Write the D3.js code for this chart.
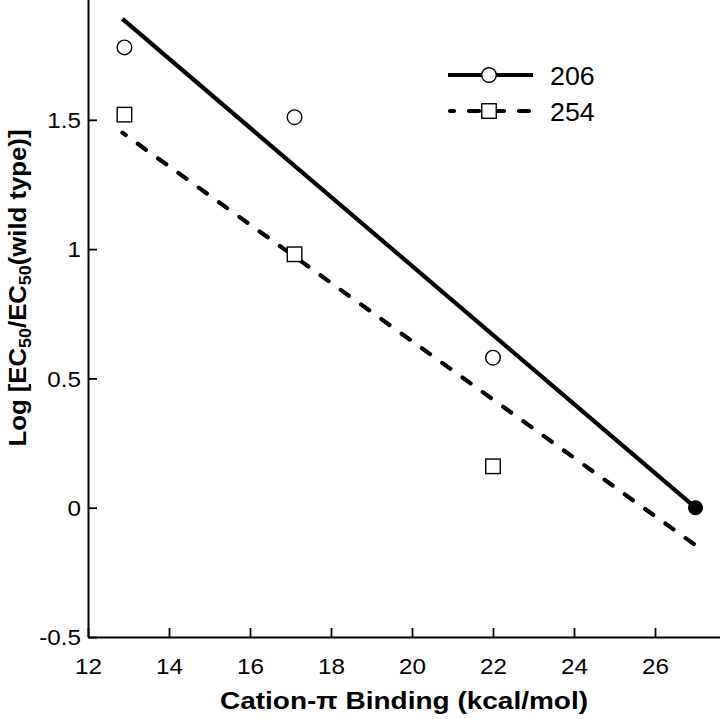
<!DOCTYPE html>
<html><head><meta charset="utf-8">
<script src="https://cdn.jsdelivr.net/npm/d3@7"></script>
<style>html,body{margin:0;padding:0;background:#fff;} svg{display:block;}</style>
</head><body>
<svg id="c" width="720" height="719"></svg>
<script>
const binding = [12.9, 17.1, 22.0];
const res206 = [1.78, 1.51, 0.58];
const res254 = [1.52, 0.98, 0.16];
const wildType = {x: 27.0, y: 0};
const fit206 = [{x: 12.85, y: 1.89}, {x: 27.0, y: 0.0}];
const fit254 = [{x: 12.85, y: 1.45}, {x: 27.0, y: -0.145}];
const xTicks = [12, 14, 16, 18, 20, 22, 24, 26];
const yTicks = [-0.5, 0, 0.5, 1, 1.5];
const legendNames = ["206", "254"];

const svg = d3.select("#c");
const font = "'Liberation Sans', Arial, Helvetica, sans-serif";
const x = d3.scaleLinear().domain([12, 28]).range([88, 736]);
const y = d3.scaleLinear().domain([-0.5, 2]).range([637, -9.5]);

function stretch(sel, k) {
  sel.each(function () {
    const L = this.getComputedTextLength();
    d3.select(this).attr("textLength", L * k).attr("lengthAdjust", "spacingAndGlyphs");
  });
}

// axes
const xAxis = d3.axisBottom(x).tickValues(xTicks).tickSizeInner(-9).tickSizeOuter(0).tickFormat(d => String(d));
const gx = svg.append("g").attr("transform", `translate(0,${y(-0.5)})`).call(xAxis);
gx.attr("font-size", null).attr("font-family", null);
gx.select(".domain").attr("stroke", "#000").attr("stroke-width", 2);
gx.selectAll(".tick line").attr("stroke", "#000").attr("stroke-width", 1.8);
gx.selectAll(".tick text").attr("y", 37).attr("dy", 0).attr("font-family", font).attr("font-size", 22).attr("fill", "#000");
stretch(gx.selectAll(".tick text"), 1.1);

const yAxis = d3.axisLeft(y).tickValues(yTicks).tickSizeInner(-9).tickSizeOuter(0).tickFormat(d => String(d));
const gy = svg.append("g").attr("transform", `translate(${x(12)},0)`).call(yAxis);
gy.attr("font-size", null).attr("font-family", null);
gy.select(".domain").attr("stroke", "#000").attr("stroke-width", 2);
gy.selectAll(".tick line").attr("stroke", "#000").attr("stroke-width", 1.8);
gy.selectAll(".tick text").attr("x", -7).attr("dy", "0.35em").attr("font-family", font).attr("font-size", 22).attr("fill", "#000");
stretch(gy.selectAll(".tick text"), 1.1);

// axis titles
svg.append("text").attr("x", 404).attr("y", 709).attr("text-anchor", "middle")
  .attr("font-family", font).attr("font-size", 23).attr("font-weight", "bold")
  .attr("textLength", 368).attr("lengthAdjust", "spacingAndGlyphs")
  .text("Cation-π Binding (kcal/mol)");

const yl = svg.append("text").attr("transform", "translate(26,288) rotate(-90)").attr("text-anchor", "middle")
  .attr("font-family", font).attr("font-size", 23).attr("font-weight", "bold")
  .attr("textLength", 317).attr("lengthAdjust", "spacingAndGlyphs");
yl.append("tspan").text("Log [EC");
yl.append("tspan").attr("font-size", 16).attr("dy", 5).text("50");
yl.append("tspan").attr("dy", -5).text("/EC");
yl.append("tspan").attr("font-size", 16).attr("dy", 5).text("50");
yl.append("tspan").attr("dy", -5).text("(wild type)]");

// fit lines
const line = d3.line().x(d => x(d.x)).y(d => y(d.y));
svg.append("path").datum(fit206).attr("d", line).attr("fill", "none").attr("stroke", "#000").attr("stroke-width", 4.2);
svg.append("path").datum(fit254).attr("d", line).attr("fill", "none").attr("stroke", "#000").attr("stroke-width", 4.2)
  .attr("stroke-dasharray", "10,15").attr("stroke-dashoffset", 6).attr("stroke-linecap", "round");

// markers
svg.selectAll("circle.p206").data(binding.map((b, i) => ({x: b, y: res206[i]}))).join("circle")
  .attr("cx", d => x(d.x)).attr("cy", d => y(d.y)).attr("r", 7.3).attr("fill", "#fff").attr("stroke", "#000").attr("stroke-width", 1.4);
const s = 14.5;
svg.selectAll("rect.p254").data(binding.map((b, i) => ({x: b, y: res254[i]}))).join("rect")
  .attr("x", d => x(d.x) - s / 2).attr("y", d => y(d.y) - s / 2).attr("width", s).attr("height", s)
  .attr("fill", "#fff").attr("stroke", "#000").attr("stroke-width", 1.4);
svg.append("circle").attr("cx", x(wildType.x)).attr("cy", y(wildType.y)).attr("r", 7.5).attr("fill", "#000");

// legend
const lg = svg.append("g");
const ly = [75, 111];
lg.append("line").attr("x1", 448).attr("x2", 533).attr("y1", ly[0]).attr("y2", ly[0]).attr("stroke", "#000").attr("stroke-width", 4.2);
lg.append("circle").attr("cx", 489).attr("cy", ly[0]).attr("r", 7.3).attr("fill", "#fff").attr("stroke", "#000").attr("stroke-width", 1.4);
lg.append("line").attr("x1", 450).attr("x2", 531).attr("y1", ly[1]).attr("y2", ly[1]).attr("stroke", "#000").attr("stroke-width", 4.2)
  .attr("stroke-dasharray", "10,15").attr("stroke-dashoffset", 6).attr("stroke-linecap", "round");
lg.append("rect").attr("x", 489 - s / 2).attr("y", ly[1] - s / 2).attr("width", s).attr("height", s)
  .attr("fill", "#fff").attr("stroke", "#000").attr("stroke-width", 1.4);
const lt = legendNames.map((n, i) =>
  lg.append("text").attr("x", 550).attr("y", ly[i] + 10).attr("font-family", font).attr("font-size", 25).attr("fill", "#000").text(n));
lt.forEach(t => stretch(t, 1.07));
</script>
</body></html>
